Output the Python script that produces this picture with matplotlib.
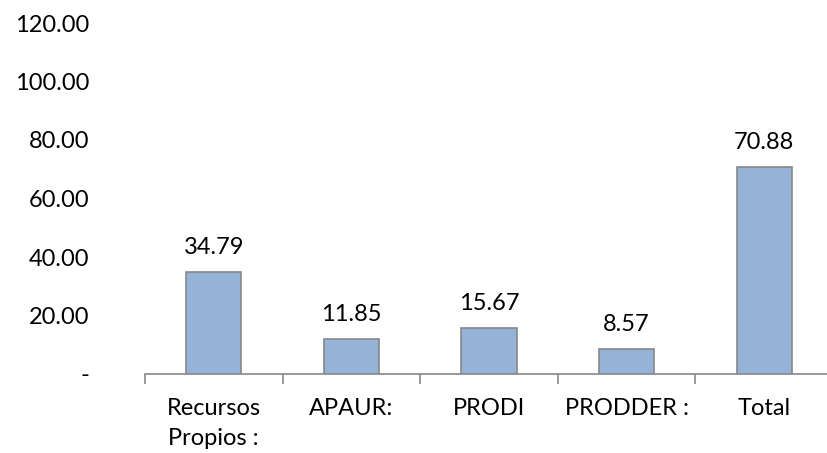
import matplotlib

matplotlib.use("Agg")
import matplotlib.pyplot as plt
from matplotlib.ticker import FuncFormatter

# Funding sources and amounts
categories = ["Recursos\nPropios :", "APAUR:", "PRODI", "PRODDER :", "Total"]
values = [34.79, 11.85, 15.67, 8.57, 70.88]
y_ticks = [0, 20, 40, 60, 80, 100, 120]

BAR_COLOR = "#95b3d7"
EDGE_COLOR = "#878787"
FS = 17
plt.rcParams["font.family"] = ["Lato", "DejaVu Sans"]

W, H = 828, 453
fig = plt.figure(figsize=(W / 100, H / 100), dpi=100)
# plot area runs a little past the right edge, like the original sheet
left, right, top, bottom = 145, 833, 23, 374
ax = fig.add_axes([left / W, 1 - bottom / H, (right - left) / W, (bottom - top) / H])

x = range(len(categories))
bars = ax.bar(x, values, width=0.4, color=BAR_COLOR, edgecolor=EDGE_COLOR, linewidth=1.2, zorder=3)

for bar, v in zip(bars, values):
    ax.annotate(f"{v:.2f}", (bar.get_x() + bar.get_width() / 2, v),
                xytext=(0, 10), textcoords="offset points",
                ha="center", va="bottom", fontsize=FS, color="black")

ax.set_xlim(-0.5, len(categories) - 0.5)
ax.set_ylim(0, 120)
ax.set_yticks(y_ticks)
ax.yaxis.set_major_formatter(FuncFormatter(lambda v, p: "-" if v == 0 else f"{v:.2f}"))
ax.tick_params(axis="y", length=0, pad=40, labelsize=FS)

# category names centred under each bar (each line centred too)
ax.set_xticks([i - 0.5 for i in range(len(categories) + 1)])
ax.set_xticklabels([])
ax.tick_params(axis="x", length=7, width=1.2, color=EDGE_COLOR, direction="out")
for i, name in zip(x, categories):
    ax.annotate(name, (i, 0), xycoords=("data", "axes fraction"),
                xytext=(0, -17), textcoords="offset points",
                ha="center", va="top", multialignment="center",
                linespacing=1.55, fontsize=FS)

for side in ["left", "right", "top"]:
    ax.spines[side].set_visible(False)
ax.spines["bottom"].set_color(EDGE_COLOR)
ax.spines["bottom"].set_linewidth(1.2)

fig.savefig("out.png", dpi=100, facecolor="white")
